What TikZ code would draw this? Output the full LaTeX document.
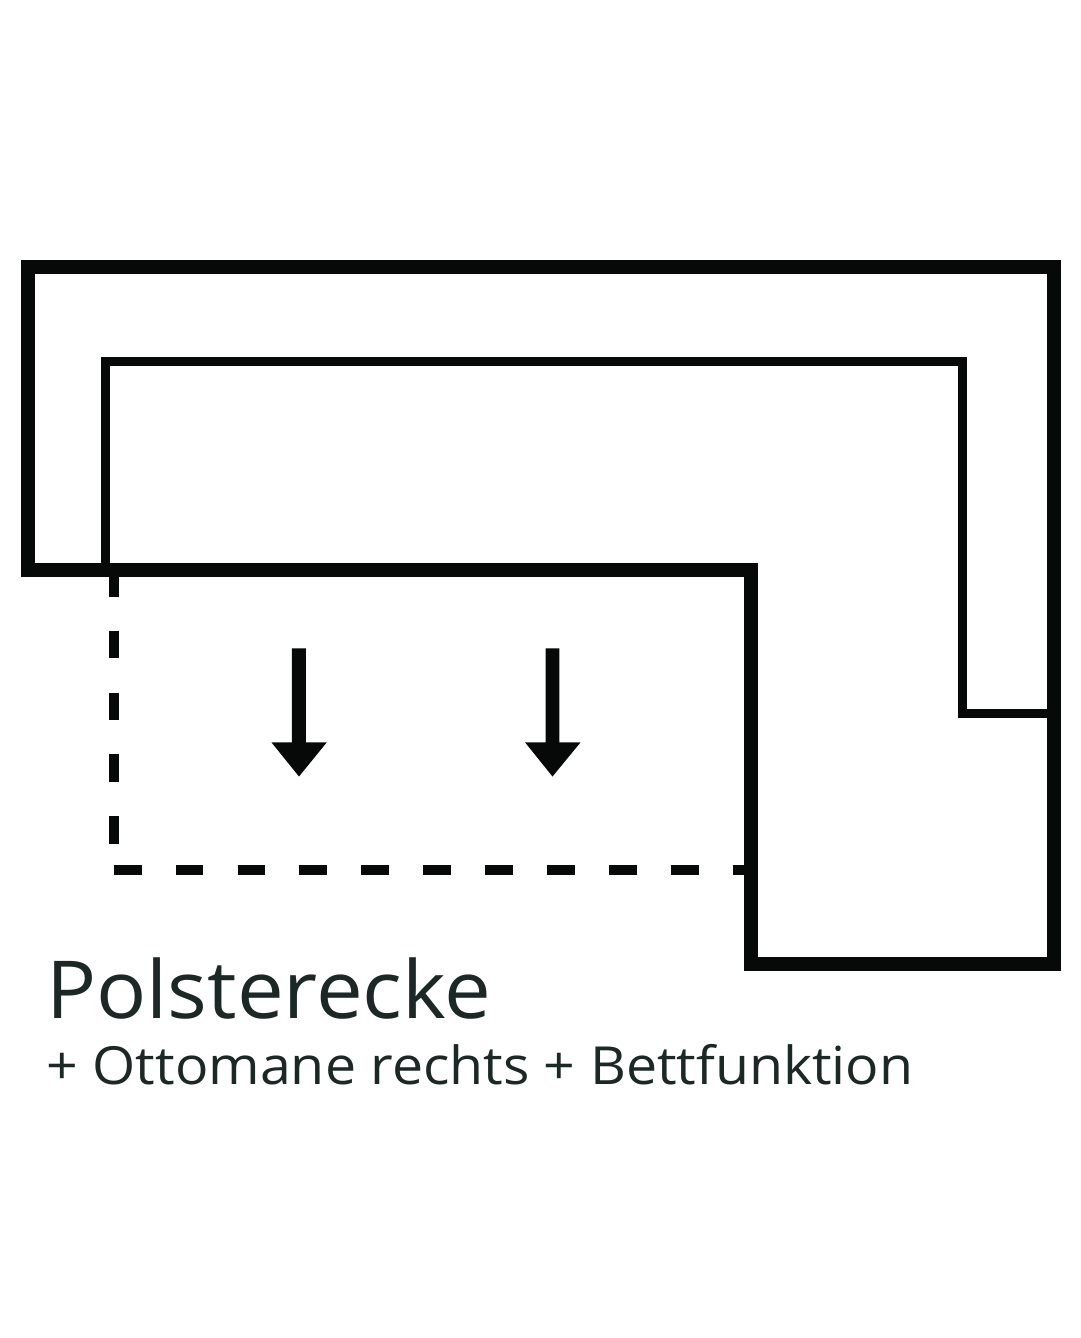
\documentclass[tikz,border=0pt]{standalone}
\usepackage{fontspec}
\setmainfont{Open Sans}
\newfontfamily\headfont[FakeStretch=1.042]{Open Sans}
\newfontfamily\subfont[FakeStretch=1.056]{Open Sans}
\definecolor{ink}{HTML}{060907}
\definecolor{txt}{HTML}{1C2826}
\begin{document}
\begin{tikzpicture}[x=1pt,y=-1pt,
  outerline/.style={draw=ink,line width=13.7pt,miter limit=10},
  innerline/.style={draw=ink,line width=9.5pt},
  dashline/.style={draw=ink,line width=10pt,dash pattern=on 27.8pt off 34.1pt},
  arrowshape/.style={fill=ink,draw=none},
  lab/.style={anchor=base west,inner sep=0pt,text=txt}]
\useasboundingbox (0,0) rectangle (1080,1338);
\fill[white] (0,0) rectangle (1080,1338);
\coordinate (a) at (28,266.7);\coordinate (b) at (1054,266.7);\coordinate (c) at (1054,964.2);
\coordinate (d) at (751.2,964.2);\coordinate (e) at (751.2,570);\coordinate (f) at (28,570);
\draw[outerline] (a)--(b)--(c)--(d)--(e)--(f)--cycle;
\coordinate (g) at (105.7,570);\coordinate (h) at (105.7,361.5);\coordinate (i) at (962.7,361.5);
\coordinate (j) at (962.7,713.3);\coordinate (k) at (1050,713.3);
\draw[innerline] (g)--(h)--(i)--(j)--(k);
\coordinate (l) at (113.7,568.7);\coordinate (m) at (113.7,845);
\coordinate (p) at (113.7,870.4);\coordinate (n) at (746,870.4);
\draw[dashline] (l)--(m);
\draw[dashline] (p)--(n);
\fill[arrowshape] (291.8,648.3)--(305.8,648.3)--(305.8,742.3)--(326.8,742.3)--(299,776.5)--(271.4,742.3)--(291.8,742.3)--cycle;
\fill[arrowshape] (545.6,648.3)--(559.4,648.3)--(559.4,742.3)--(580.6,742.3)--(552.5,776.5)--(525,742.3)--(545.6,742.3)--cycle;
\node[lab,font=\headfont\fontsize{80}{80}\selectfont] (t1) at (46,1018.5) {Polsterecke};
\node[lab,font=\subfont\fontsize{52.5}{52.5}\selectfont] (t2) at (46.5,1084.5) {+ Ottomane rechts + Bettfunktion};
\end{tikzpicture}
\end{document}
